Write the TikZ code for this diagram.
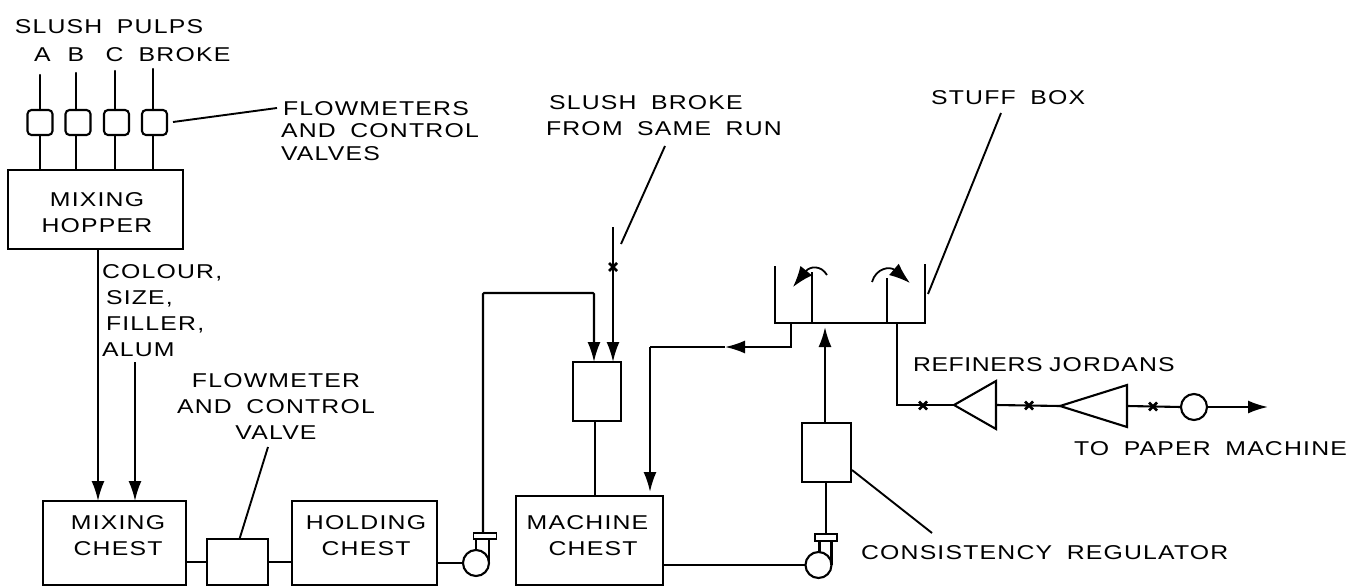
\documentclass[tikz,border=0pt]{standalone}
\usepackage{fontspec}
\setmainfont[LetterSpace=6,FakeStretch=1.24,WordSpace=1.8]{Liberation Sans}
\usepackage{tikz}
\usetikzlibrary{arrows.meta,positioning,shapes.geometric,shapes.misc}

\begin{document}
\begin{tikzpicture}[
        x=1pt, y=-1pt,
        font=\fontsize{20}{26}\selectfont,
        line width=2.1pt,
        box/.style={draw, align=center, outer sep=0pt, inner sep=0pt},
        meter/.style={draw, rounded corners=4pt, outer sep=0pt, inner sep=0pt, minimum width=25pt, minimum height=25pt},
        lbl/.style={align=center, inner sep=0pt},
        lbll/.style={align=left, inner sep=0pt},
        pump/.style={draw, circle, outer sep=0pt, inner sep=0pt, minimum size=26pt},
        flange/.style={draw, outer sep=0pt, inner sep=0pt, line width=1.8pt, minimum width=23pt, minimum height=6pt},
        xmark/.style={draw, cross out, outer sep=0pt, inner sep=0pt, minimum size=8pt, line width=2.8pt},
        refiner/.style={draw, isosceles triangle, isosceles triangle stretches, shape border rotate=180, outer sep=0pt, inner sep=0pt, anchor=apex},
        arr/.style={-{Latex[length=20pt,width=13pt]}},
        swirl/.style={-{Latex[length=21pt,width=15pt]}, line width=1.8pt},
        pipe/.style={line cap=round},
        lead/.style={line width=1.9pt}
    ]
        \useasboundingbox (0,0) rectangle (1353,586);

        % top labels
        \node[lbl] (pulps) at (109,27) {SLUSH PULPS};
        \node[lbl] (pulpa) at (42.5,55) {A};
        \node[lbl] (pulpb) at (76,55) {B};
        \node[lbl] (pulpc) at (114.5,55) {C};
        \node[lbl] (pulpd) at (184.5,55) {BROKE};
        \node[lbll, anchor=west] (metertext) at (280,131) {\hspace*{2pt}FLOWMETERS\\[-3.5pt]AND CONTROL\\[-3.5pt]VALVES};

        % flowmeters and hopper
        \node[meter] (metera) at (40,122.5) {};
        \node[meter] (meterb) at (78,122.5) {};
        \node[meter] (meterc) at (116.5,122.5) {};
        \node[meter] (meterd) at (154.5,122.5) {};
        \node[box, minimum width=175pt, minimum height=79pt] (hopper) at (95.5,209.5) {};
        \node[lbl] (hoppertext) at (97,213) {MIXING\\HOPPER};
        \coordinate (ina) at (40,75);
        \coordinate (inb) at (76,73);
        \coordinate (inc) at (115,71);
        \coordinate (ind) at (153,69);
        \draw[pipe] (ina) -- (metera);
        \draw[pipe] (inb) -- (inb |- meterb.north);
        \draw[pipe] (inc) -- (inc |- meterc.north);
        \draw[pipe] (ind) -- (ind |- meterd.north);
        \draw (metera.south) -- (metera.south |- hopper.north);
        \draw ([xshift=-2pt]meterb.south) -- ([xshift=-2pt]meterb.south |- hopper.north);
        \draw ([xshift=-1.5pt]meterc.south) -- ([xshift=-1.5pt]meterc.south |- hopper.north);
        \draw ([xshift=-1.5pt]meterd.south) -- ([xshift=-1.5pt]meterd.south |- hopper.north);
        \coordinate (metertip) at (173,122);
        \coordinate (metertail) at (277,108);
        \draw[lead] (metertip) -- (metertail);

        % bottom row of chests
        \node[box, minimum width=143pt, minimum height=84pt] (mixchest) at (114.5,543) {};
        \node[lbl] (mixtext) at (118,535.5) {MIXING\\CHEST};
        \node[box, minimum width=61pt, minimum height=46pt] (valve) at (237.5,562) {};
        \node[box, minimum width=145pt, minimum height=84pt] (holdchest) at (364.5,543) {};
        \node[lbl] (holdtext) at (366,535.5) {HOLDING\\CHEST};
        \node[box, minimum width=147pt, minimum height=89pt] (machchest) at (589.5,540.5) {};
        \node[lbl] (machtext) at (587.5,535.5) {MACHINE\\\hspace*{11pt}CHEST};
        \node[lbll, anchor=west] (addtext) at (101,310.5) {COLOUR,\\\hspace*{4pt}SIZE,\\\hspace*{4pt}FILLER,\\ALUM};
        \node[lbl] (valvetext) at (276,406.5) {FLOWMETER\\AND CONTROL\\VALVE};
        \coordinate (addin) at (135,362);
        \coordinate (valvetail) at (268,447);
        \draw[arr] ([xshift=2.5pt]hopper.south) -- ([xshift=2.5pt]hopper.south |- mixchest.north);
        \draw[arr] (addin) -- (addin |- mixchest.north);
        \draw (mixchest.east |- valve.west) -- (valve.west);
        \draw (valve.east) -- (valve.east -| holdchest.west);
        \draw[lead] ([xshift=2pt]valve.north) -- (valvetail);

        % pump after holding chest
        \node[pump] (pumpa) at (476,563) {};
        \node[flange] (flangea) at (485,536) {};
        \draw (holdchest.east |- pumpa.west) -- (pumpa.west);
        \draw (pumpa.east) -- (pumpa.east |- flangea.south);
        \draw (pumpa.north) -- (pumpa.north |- flangea.south);

        % mixing box above machine chest
        \node[box, minimum width=48pt, minimum height=59pt] (mixbox) at (597,391.5) {};
        \node[lbll, anchor=west] (brokerun) at (545,115.5) {\hspace*{3pt}SLUSH BROKE\\FROM SAME RUN};
        \coordinate (brokein) at (613,227);
        \coordinate (runtip) at (621,244);
        \coordinate (runtail) at (665,146);
        \coordinate (loopin) at (594,293);
        \node[xmark] (brokex) at (613,267) {};
        \draw[lead] (runtip) -- (runtail);
        \draw[arr] (brokein) -- (brokein |- mixbox.north);
        \draw[arr, rounded corners=1pt] ([xshift=-2pt]flangea.north) |- (loopin) -- (loopin |- mixbox.north);
        \draw ([xshift=-2pt]mixbox.south) -- ([xshift=-2pt]mixbox.south |- machchest.north);

        % stuff box
        \node[minimum width=150pt, minimum height=57pt, outer sep=0pt, inner sep=0pt] (stuffbox) at (850,294.5) {};
        \draw (stuffbox.north west) -- (stuffbox.south west) -- (stuffbox.south east) -- ([yshift=2pt]stuffbox.north east);
        \node[lbl, anchor=west] (stufftext) at (930,98) {STUFF BOX};
        \coordinate (stufftip) at (928,294);
        \coordinate (stufftail) at (1001,113);
        \draw[lead] (stufftip) -- (stufftail);
        \coordinate (stirla) at (812,323);
        \coordinate (stirlb) at (812,272);
        \coordinate (stirra) at (887,323);
        \coordinate (stirrb) at (887,278);
        \draw (stirla) -- (stirlb);
        \draw (stirra) -- (stirrb);
        \coordinate (swirla) at (827,275);
        \coordinate (swirlb) at (793,287);
        \coordinate (swirlc) at (872,282);
        \coordinate (swirld) at (910,283);
        \draw[swirl] (swirla) .. controls (821,265) and (810,266) .. (swirlb);
        \draw[swirl] (swirlc) .. controls (876,268) and (890,266) .. (swirld);

        % return to machine chest
        \coordinate (returnout) at (791,323);
        \coordinate (returnmid) at (791,347);
        \coordinate (returnarr) at (725,347);
        \coordinate (returncor) at (650,347);
        \coordinate (returnend) at (650,492);
        \draw[arr] (returnout) -- (returnmid) -- (returnarr);
        \draw (returnarr) -- (returncor);
        \draw[arr] (returncor) -- (returnend);

        % consistency regulator and second pump
        \node[box, minimum width=49pt, minimum height=59pt] (regbox) at (826.5,452.5) {};
        \node[pump] (pumpb) at (818.5,565) {};
        \node[flange, minimum width=22pt, minimum height=7pt] (flangeb) at (826,537.5) {};
        \node[lbl, anchor=west] (regtext) at (860,553) {CONSISTENCY REGULATOR};
        \coordinate (regtip) at (852,470);
        \coordinate (regtail) at (932,533);
        \coordinate (stuffin) at (825,327);
        \draw[arr] (stuffin |- regbox.north) -- (stuffin);
        \draw (flangeb.north) -- (flangeb.north |- regbox.south);
        \draw (machchest.east |- pumpb.west) -- (pumpb.west);
        \draw (pumpb.east) -- (pumpb.east |- flangeb.south);
        \draw ([xshift=1pt]pumpb.north) -- ([xshift=1pt]pumpb.north |- flangeb.south);
        \draw[lead] (regtip) -- (regtail);

        % refiners, jordans
        \node[lbl, anchor=west] (reftext) at (912,365) {\addfontfeature{LetterSpace=3}REFINERS};
        \node[lbl, anchor=west] (jordtext) at (1048,365) {JORDANS};
        \node[lbl, anchor=west] (papertext) at (1073,449) {TO PAPER MACHINE};
        \node[refiner, minimum height=42pt, minimum width=48pt] (refa) at (954,405) {};
        \node[refiner, minimum height=67pt, minimum width=42pt] (refb) at (1060,406) {};
        \node[pump] (screen) at (1194,407) {};
        \node[xmark] (xa) at (923,405.5) {};
        \node[xmark] (xb) at (1029,405.5) {};
        \node[xmark] (xc) at (1153,406.5) {};
        \coordinate (refout) at (897,323);
        \coordinate (paperout) at (1268,407);
        \draw (refout) |- (refa.apex);
        \draw (refa.lower side) -- (refb.apex);
        \draw (refb.lower side) -- (screen.west);
        \draw[arr] (screen.east) -- (paperout);
    \end{tikzpicture}
\end{document}
